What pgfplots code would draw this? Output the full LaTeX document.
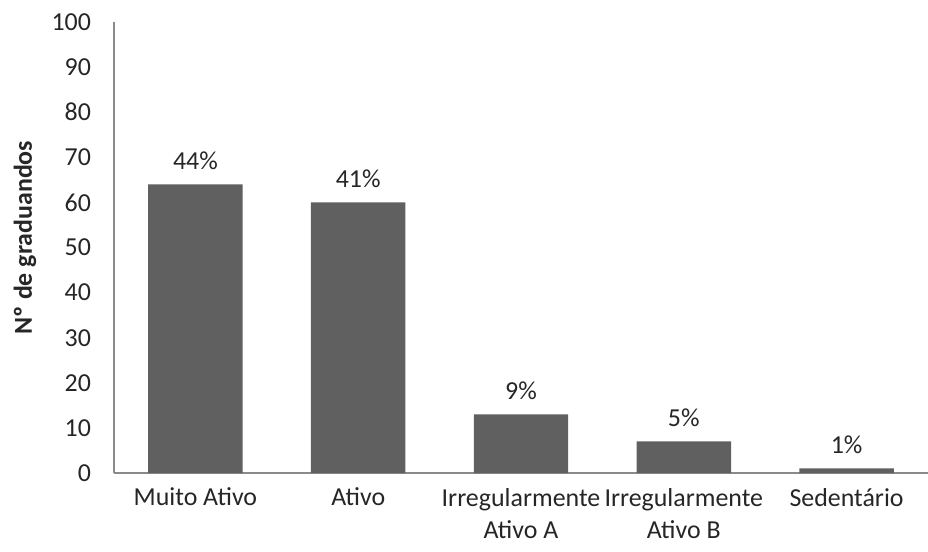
\documentclass[border=0pt]{standalone}
\usepackage{pgfplots}
\pgfplotsset{compat=1.18}
\usepackage{fontspec}
\setmainfont{Carlito}
\definecolor{barc}{HTML}{606060}
\definecolor{axc}{HTML}{8A8A8A}
\definecolor{txt}{HTML}{262626}
\begin{document}
\begin{tikzpicture}
\begin{axis}[
  at={(0,0)}, anchor=south west,
  scale only axis,
  width=407bp, height=225.5bp,
  xmin=-0.5, xmax=4.5, ymin=0, ymax=100,
  ytick={0,10,...,100},
  xtick={0,1,2,3,4},
  xticklabels={Muito Ativo,Ativo,{Irregularmente\\Ativo A},{Irregularmente\\Ativo B},Sedentário},
  x tick label style={align=center, font=\fontsize{13}{16.5}\selectfont, text=txt, yshift=-4bp},
  y tick label style={font=\fontsize{13}{16}\selectfont, text=txt, xshift=-8bp},
  /pgf/number format/assume math mode=true,
  major tick length=0pt,
  axis x line*=bottom, axis y line*=left,
  axis line style={axc, line width=0.8bp},
  every outer x axis line/.append style={-},
  every outer y axis line/.append style={-},
  ylabel={\textbf{Nº de graduandos}},
  ylabel style={font=\fontsize{13}{16}\selectfont, text=txt, at={(axis description cs:0,0.5)}, anchor=center, yshift=44.5bp, xshift=5bp},
  nodes near coords style={font=\fontsize{13}{16}\selectfont, text=txt, yshift=4bp},
]
\addplot[ybar, bar width=0.58, fill=barc, draw=none,
  point meta=explicit symbolic, nodes near coords]
  coordinates {(0,64) [44\%] (1,60) [41\%] (2,13) [9\%] (3,7) [5\%] (4,1) [1\%]};
\end{axis}
\pgfresetboundingbox
\path[use as bounding box] (-57bp,-39.5bp) rectangle (407bp,236.5bp);
\end{tikzpicture}
\end{document}
